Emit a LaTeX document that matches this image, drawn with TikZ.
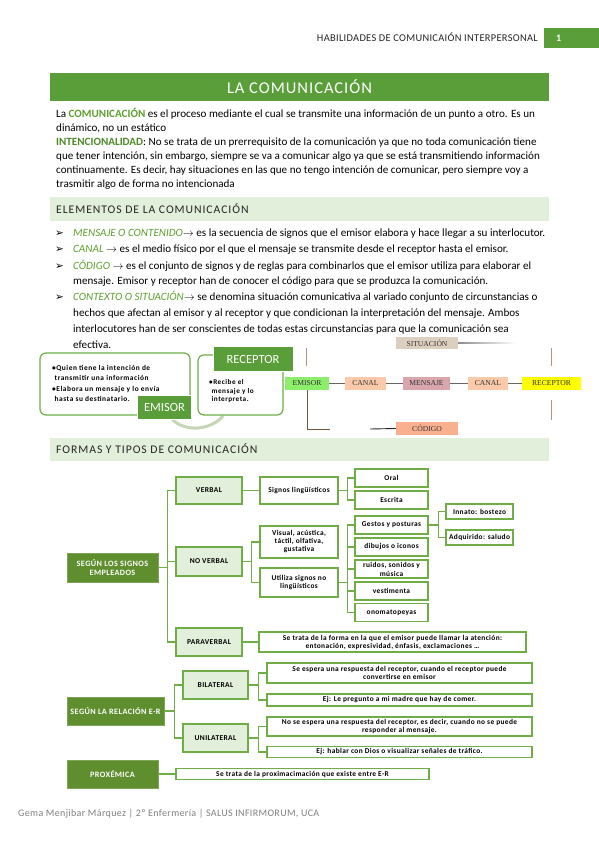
\documentclass[tikz,border=0pt]{standalone}
\usepackage{fontspec}
\setmainfont{Carlito}
\newfontfamily\chainfont{Liberation Serif}
\newfontfamily\symfont{DejaVu Sans}
\newfontfamily\spacedfont[LetterSpace=8]{Carlito}
\newfontfamily\titlefont[LetterSpace=6]{Carlito}
\newfontfamily\boxfont[LetterSpace=5]{Carlito}
\newfontfamily\smartfont[LetterSpace=7]{Carlito}
\newfontfamily\hdrfont[LetterSpace=3]{Carlito}
\newfontfamily\footfont[LetterSpace=3.5]{Carlito}
\definecolor{gtitle}{HTML}{5A9E3A}
\definecolor{gterm}{HTML}{5EA02E}
\definecolor{gint}{HTML}{4E8A2A}
\definecolor{gband}{HTML}{E2EFDA}
\definecolor{gborder}{HTML}{70AD47}
\definecolor{gdark}{HTML}{5E8E2E}
\definecolor{garc}{HTML}{C5D6B8}
\definecolor{csit}{HTML}{DDCFC0}
\definecolor{cemi}{HTML}{8CEE6A}
\definecolor{ccanal}{HTML}{F9C9A9}
\definecolor{cmens}{HTML}{D9A6AE}
\definecolor{crec}{HTML}{FFFF00}
\definecolor{ccod}{HTML}{F9B08E}
\definecolor{cbrown}{HTML}{8B6B4A}
\definecolor{cfoot}{HTML}{808080}
\tikzset{
  txt/.style={anchor=base west, inner sep=0pt, font=\fontsize{11.1}{12}\selectfont},
  lbox/.style={draw=gborder, fill=gband, line width=1.2pt, inner sep=1pt, align=center, font=\boxfont\fontsize{7.5}{8.5}\selectfont\bfseries},
  wbox/.style={draw=gborder, fill=white, line width=1.2pt, inner sep=1pt, align=center, font=\boxfont\fontsize{7.4}{8}\selectfont\bfseries},
  dbox/.style={draw=gdark!80!white, fill=gdark, line width=0.6pt, inner sep=1pt, align=center, text=white, font=\boxfont\fontsize{8.2}{9.5}\selectfont\bfseries},
  conn/.style={draw=gborder, line width=1.2pt},
  chbox/.style={inner sep=0pt, font=\chainfont\fontsize{7.6}{8}\selectfont, text=black!80},
  chline/.style={draw=black!60, line width=0.7pt},
  sabox/.style={draw=gborder, fill=white, line width=1.2pt, rounded corners=6pt},
  salabel/.style={fill=gtitle, draw=white, line width=0.8pt, text=white, inner sep=0pt, font=\fontsize{12.5}{13}\selectfont}
}
\begin{document}
\begin{tikzpicture}[x=1pt,y=-1pt]
\useasboundingbox (0,0) rectangle (599,848);
\fill[white] (0,0) rectangle (599,848);
% header
\node[anchor=base east, inner sep=0pt, font=\hdrfont\fontsize{10.4}{11}\selectfont, text=black!85] (hdr) at (538,41.5) {HABILIDADES DE COMUNICAIÓN INTERPERSONAL};
\node[fill=gtitle, minimum width=55, minimum height=20, inner sep=0pt] (pg) at (571.5,38) {};
\node[anchor=base west, inner sep=0pt, text=white, font=\fontsize{10}{11}\selectfont\bfseries] (pgn) at (556,42) {1};
% title
\node[fill=gtitle, minimum width=499, minimum height=28, inner sep=0pt, text=white, font=\titlefont\fontsize{16.5}{17}\selectfont] (title) at (299.5,87) {LA COMUNICACIÓN};
% intro
\node[txt] (i1) at (56,117.5) {La \textcolor{gterm}{\bfseries COMUNICACIÓN} es el proceso mediante el cual se transmite una información de un punto a otro. Es un};
\node[txt] (i2) at (56,131.5) {dinámico, no un estático};
\node[txt] (i3) at (56,145.5) {\textcolor{gint}{\bfseries INTENCIONALIDAD}: No se trata de un prerrequisito de la comunicación ya que no toda comunicación tiene};
\node[txt] (i4) at (56,159.5) {que tener intención, sin embargo, siempre se va a comunicar algo ya que se está transmitiendo información};
\node[txt] (i5) at (56,173) {continuamente. Es decir, hay situaciones en las que no tengo intención de comunicar, pero siempre voy a};
\node[txt] (i6) at (56,187) {trasmitir algo de forma no intencionada};
% elementos band
\node[fill=gband, minimum width=499, minimum height=24, inner sep=0pt] (band1) at (299.5,209) {};
\node[anchor=base west, inner sep=0pt, font=\spacedfont\fontsize{11.7}{12}\selectfont, text=black!85] (band1t) at (56,213.5) {ELEMENTOS DE LA COMUNICACIÓN};
% bullets
\foreach \yy/\nm in {236.5/b1,252.5/b2,269.5/b3,300.5/b4}{
  \node[anchor=base west, inner sep=0pt, font=\symfont\fontsize{10.5}{11}\selectfont] (\nm s) at (55,\yy) {➢};
}
\node[txt] (b1) at (73,236.5) {\textcolor{gterm}{\itshape MENSAJE O CONTENIDO}$\rightarrow$ es la secuencia de signos que el emisor elabora y hace llegar a su interlocutor.};
\node[txt] (b2) at (73,252.5) {\textcolor{gterm}{\itshape CANAL} $\rightarrow$ es el medio físico por el que el mensaje se transmite desde el receptor hasta el emisor.};
\node[txt] (b3) at (73,269.5) {\textcolor{gterm}{\itshape CÓDIGO} $\rightarrow$ es el conjunto de signos y de reglas para combinarlos que el emisor utiliza para elaborar el};
\node[txt] (b3b) at (73,284.5) {mensaje. Emisor y receptor han de conocer el código para que se produzca la comunicación.};
\node[txt] (b4) at (73,300.5) {\textcolor{gterm}{\itshape CONTEXTO O SITUACIÓN}$\rightarrow$ se denomina situación comunicativa al variado conjunto de circunstancias o};
\node[txt] (b4b) at (73,316.5) {hechos que afectan al emisor y al receptor y que condicionan la interpretación del mensaje. Ambos};
\node[txt] (b4c) at (73,332.5) {interlocutores han de ser conscientes de todas estas circunstancias para que la comunicación sea};
\node[txt] (b4d) at (73,348.5) {efectiva.};
% smartart emisor / receptor
\draw[garc, line width=3pt] (172,419) .. controls (184,432) and (210,431) .. (223,416);
\draw[sabox] (40,353) rectangle (190,415);
\draw[sabox] (198,355) rectangle (283,415);
\node[anchor=north west, inner sep=0pt, align=left, font=\smartfont\fontsize{7.4}{10}\selectfont\bfseries] (emtxt) at (52,365) {•Quien tiene la intención de\\\hspace*{2.5pt}transmitir una información\\[1.5pt]•Elabora un mensaje y lo envía\\\hspace*{2.5pt}hasta su destinatario.};
\node[anchor=north west, inner sep=0pt, align=left, font=\smartfont\fontsize{7.2}{8.5}\selectfont\bfseries] (retxt) at (209,379.5) {•Recibe el\\\hspace*{2.5pt}mensaje y lo\\\hspace*{2.5pt}interpreta.};
\node[salabel, minimum width=54, minimum height=24] (emisor) at (164.5,407.5) {EMISOR};
\node[salabel, minimum width=80, minimum height=25] (receptor) at (253,359) {RECEPTOR};
% chain
\node[chbox, fill=csit, minimum width=62, minimum height=12] (sit) at (427,343) {SITUACIÓN};
\shade[left color=black!45, right color=white] (458,342) rectangle (516,343.2);
\draw[cbrown!70, line width=0.8pt] (306,348) -- (306,366);
\draw[cbrown!70, line width=0.8pt] (551,348) -- (551,366);
\draw[cbrown!70, line width=0.8pt] (551,400) -- (551,420);
\node[chbox, fill=cemi, minimum width=44, minimum height=13] (cemisor) at (307,383.5) {EMISOR};
\node[chbox, fill=ccanal, minimum width=41, minimum height=13] (canal1) at (365.5,383.5) {CANAL};
\node[chbox, fill=cmens, minimum width=47, minimum height=13] (mensaje) at (426.5,383.5) {MENSAJE};
\node[chbox, fill=ccanal, minimum width=40, minimum height=13] (canal2) at (488,383.5) {CANAL};
\node[chbox, fill=crec, minimum width=59, minimum height=13] (creceptor) at (551.5,383.5) {RECEPTOR};
\node[chbox, fill=ccod, minimum width=62, minimum height=13] (codigo) at (427,428.5) {CÓDIGO};
\draw[chline] (cemisor) -- (canal1);
\draw[chline] (canal1) -- (mensaje);
\draw[chline] (mensaje) -- (canal2);
\draw[chline] (canal2) -- (creceptor);
\coordinate (cc1) at (330,429);
\coordinate (cc2) at (370,429);
\draw[cbrown!80!black, line width=0.9pt] (cemisor.south) -- (cemisor.south |- cc1) -- (cc1);
\draw[black!85, line width=0.9pt] (cc2) -- (codigo.west);
% formas band
\node[fill=gband, minimum width=499, minimum height=23, inner sep=0pt] (band2) at (299.5,449) {};
\node[anchor=base west, inner sep=0pt, font=\spacedfont\fontsize{11.7}{12}\selectfont, text=black!85] (band2t) at (56,453.5) {FORMAS Y TIPOS DE COMUNICACIÓN};
% tree 1
\node[dbox, minimum width=91, minimum height=29] (sg1) at (112.5,567.5) {SEGÚN LOS SIGNOS\\EMPLEADOS};
\node[lbox, minimum width=66, minimum height=27] (verbal) at (209,490.5) {VERBAL};
\node[lbox, minimum width=66, minimum height=29] (noverbal) at (209,561.5) {NO VERBAL};
\node[lbox, minimum width=66, minimum height=28] (paraverbal) at (209,642) {PARAVERBAL};
\node[wbox, minimum width=78, minimum height=27] (signos) at (299,490.5) {Signos lingüísticos};
\node[wbox, minimum width=73, minimum height=18] (oral) at (391.5,478) {Oral};
\node[wbox, minimum width=73, minimum height=18] (escrita) at (391.5,500) {Escrita};
\node[wbox, minimum width=78, minimum height=32] (visual) at (299,542) {Visual, acústica,\\táctil, olfativa,\\gustativa};
\node[wbox, minimum width=78, minimum height=29] (utiliza) at (299,582.5) {Utiliza signos no\\lingüísticos};
\node[wbox, minimum width=73, minimum height=18] (gestos) at (391.5,525) {Gestos y posturas};
\node[wbox, minimum width=73, minimum height=18] (dibujos) at (391.5,547) {dibujos o iconos};
\node[wbox, minimum width=73, minimum height=18] (ruidos) at (391.5,569) {};
\node[inner sep=0pt, align=center, font=\boxfont\fontsize{7.4}{9}\selectfont\bfseries] (ruidost) at (391.5,569.5) {ruidos, sonidos y\\música};
\node[wbox, minimum width=73, minimum height=18] (vest) at (391.5,591) {vestimenta};
\node[wbox, minimum width=73, minimum height=18] (onom) at (391.5,612.5) {onomatopeyas};
\node[wbox, minimum width=67, minimum height=15] (innato) at (479.5,511.5) {Innato: bostezo};
\node[wbox, minimum width=67, minimum height=15] (adq) at (479.5,537.5) {Adquirido: saludo};
\node[wbox, minimum width=267, minimum height=20] (paradesc) at (392.5,642) {Se trata de la forma en la que el emisor puede llamar la atención:\\entonación, expresividad, énfasis, exclamaciones …};
\draw[conn] (sg1.east) -- ++(9,0) coordinate (t1);
\draw[conn] (t1) |- (verbal.west);
\draw[conn] (t1) |- (noverbal.west);
\draw[conn] (t1) |- (paraverbal.west);
\draw[conn] (verbal.east) -- (signos.west);
\draw[conn] (signos.east) -- ++(9,0) coordinate (t2);
\draw[conn] (t2) |- (oral.west);
\draw[conn] (t2) |- (escrita.west);
\draw[conn] (noverbal.east) -- ++(9,0) coordinate (t3);
\draw[conn] (t3) |- (visual.west);
\draw[conn] (t3) |- (utiliza.west);
\draw[conn] (utiliza.east) -- ++(9,0) coordinate (t4);
\foreach \c in {gestos,dibujos,ruidos,vest,onom}{\draw[conn] (t4) |- (\c.west);}
\draw[conn] (gestos.east) -- ++(10,0) coordinate (t5);
\draw[conn] (t5) |- (innato.west);
\draw[conn] (t5) |- (adq.west);
\draw[conn] (paraverbal.east) -- (paradesc.west);
% tree 2
\node[dbox, minimum width=97, minimum height=28] (sg2) at (115.5,711) {SEGÚN LA RELACIÓN E-R};
\node[lbox, minimum width=65, minimum height=28] (bil) at (215.5,685) {BILATERAL};
\node[lbox, minimum width=65, minimum height=28] (uni) at (215.5,738) {UNILATERAL};
\node[wbox, minimum width=265, minimum height=20] (bdesc) at (399.5,673) {Se espera una respuesta del receptor, cuando el receptor puede\\convertirse en emisor};
\node[wbox, minimum width=265, minimum height=12] (bej) at (399.5,700) {Ej: Le pregunto a mi madre que hay de comer.};
\node[wbox, minimum width=265, minimum height=19] (udesc) at (399.5,726.5) {No se espera una respuesta del receptor, es decir, cuando no se puede\\responder al mensaje.};
\node[wbox, minimum width=265, minimum height=11] (uej) at (399.5,752) {Ej: hablar con Dios o visualizar señales de tráfico.};
\draw[conn] (sg2.east) -- ++(10,0) coordinate (t6);
\draw[conn] (t6) |- (bil.west);
\draw[conn] (t6) |- (uni.west);
\draw[conn] (bil.east) -- ++(10,0) coordinate (t7);
\draw[conn] (t7) |- (bdesc.west);
\draw[conn] (t7) |- (bej.west);
\draw[conn] (uni.east) -- ++(10,0) coordinate (t8);
\draw[conn] (t8) |- (udesc.west);
\draw[conn] (t8) |- (uej.west);
\node[dbox, minimum width=91, minimum height=28] (prox) at (112.5,774) {PROXÉMICA};
\node[wbox, minimum width=253, minimum height=11] (pdesc) at (302.5,774) {Se trata de la proximacimación que existe entre E-R};
\draw[conn] (prox.east) -- (pdesc.west);
% footer
\node[anchor=base west, inner sep=0pt, font=\footfont\fontsize{10}{11}\selectfont, text=cfoot] (foot) at (18,816.5) {Gema Menjibar Márquez | 2º Enfermería | SALUS INFIRMORUM, UCA};
\end{tikzpicture}
\end{document}
